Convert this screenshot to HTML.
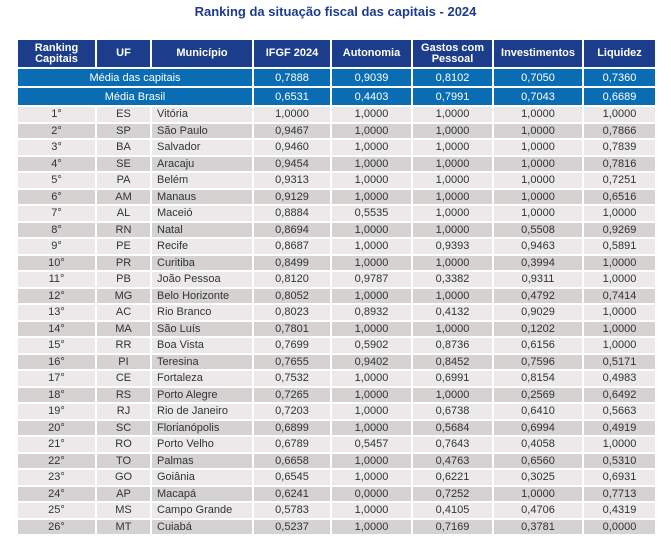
<!DOCTYPE html>
<html><head><meta charset="utf-8"><style>
body{margin:0;background:#fff;width:671px;height:547px;overflow:hidden;font-family:"Liberation Sans","DejaVu Sans",sans-serif;}
.title{position:absolute;top:4px;left:0;width:671px;text-align:center;color:#1c3c8c;font-weight:bold;font-size:13px;}
table{position:absolute;left:16px;top:38px;width:639px;border-collapse:collapse;table-layout:fixed;font-size:11px;color:#333;}
td,th{border:2px solid #fff;padding:0;text-align:center;line-height:12px;overflow:hidden;white-space:nowrap;}
th{background:#1c3c8c;color:#fff;font-size:11px;height:27px;font-weight:bold;line-height:11px;}
tr.m td{background:#0a6db3;color:#fff;height:17px;}
tr.d td{height:14.5px;}
tr.d:nth-child(even) td{background:#ebe9ea;}
tr.d:nth-child(odd) td{background:#d5d2d2;}
td.l{text-align:left;padding-left:5px;}
</style></head><body>
<div class="title">Ranking da situação fiscal das capitais - 2024</div>
<table>
<colgroup><col style="width:79px"><col style="width:55px"><col style="width:102px"><col style="width:78px"><col style="width:81px"><col style="width:81px"><col style="width:90px"><col style="width:73px"></colgroup>
<tr><th>Ranking<br>Capitais</th><th>UF</th><th>Município</th><th>IFGF 2024</th><th>Autonomia</th><th>Gastos com<br>Pessoal</th><th>Investimentos</th><th>Liquidez</th></tr>
<tr class="m"><td colspan="3">Média das capitais</td><td>0,7888</td><td>0,9039</td><td>0,8102</td><td>0,7050</td><td>0,7360</td></tr>
<tr class="m"><td colspan="3">Média Brasil</td><td>0,6531</td><td>0,4403</td><td>0,7991</td><td>0,7043</td><td>0,6689</td></tr>
<tr class="d"><td>1°</td><td>ES</td><td class="l">Vitória</td><td>1,0000</td><td>1,0000</td><td>1,0000</td><td>1,0000</td><td>1,0000</td></tr>
<tr class="d"><td>2°</td><td>SP</td><td class="l">São Paulo</td><td>0,9467</td><td>1,0000</td><td>1,0000</td><td>1,0000</td><td>0,7866</td></tr>
<tr class="d"><td>3°</td><td>BA</td><td class="l">Salvador</td><td>0,9460</td><td>1,0000</td><td>1,0000</td><td>1,0000</td><td>0,7839</td></tr>
<tr class="d"><td>4°</td><td>SE</td><td class="l">Aracaju</td><td>0,9454</td><td>1,0000</td><td>1,0000</td><td>1,0000</td><td>0,7816</td></tr>
<tr class="d"><td>5°</td><td>PA</td><td class="l">Belém</td><td>0,9313</td><td>1,0000</td><td>1,0000</td><td>1,0000</td><td>0,7251</td></tr>
<tr class="d"><td>6°</td><td>AM</td><td class="l">Manaus</td><td>0,9129</td><td>1,0000</td><td>1,0000</td><td>1,0000</td><td>0,6516</td></tr>
<tr class="d"><td>7°</td><td>AL</td><td class="l">Maceió</td><td>0,8884</td><td>0,5535</td><td>1,0000</td><td>1,0000</td><td>1,0000</td></tr>
<tr class="d"><td>8°</td><td>RN</td><td class="l">Natal</td><td>0,8694</td><td>1,0000</td><td>1,0000</td><td>0,5508</td><td>0,9269</td></tr>
<tr class="d"><td>9°</td><td>PE</td><td class="l">Recife</td><td>0,8687</td><td>1,0000</td><td>0,9393</td><td>0,9463</td><td>0,5891</td></tr>
<tr class="d"><td>10°</td><td>PR</td><td class="l">Curitiba</td><td>0,8499</td><td>1,0000</td><td>1,0000</td><td>0,3994</td><td>1,0000</td></tr>
<tr class="d"><td>11°</td><td>PB</td><td class="l">João Pessoa</td><td>0,8120</td><td>0,9787</td><td>0,3382</td><td>0,9311</td><td>1,0000</td></tr>
<tr class="d"><td>12°</td><td>MG</td><td class="l">Belo Horizonte</td><td>0,8052</td><td>1,0000</td><td>1,0000</td><td>0,4792</td><td>0,7414</td></tr>
<tr class="d"><td>13°</td><td>AC</td><td class="l">Rio Branco</td><td>0,8023</td><td>0,8932</td><td>0,4132</td><td>0,9029</td><td>1,0000</td></tr>
<tr class="d"><td>14°</td><td>MA</td><td class="l">São Luís</td><td>0,7801</td><td>1,0000</td><td>1,0000</td><td>0,1202</td><td>1,0000</td></tr>
<tr class="d"><td>15°</td><td>RR</td><td class="l">Boa Vista</td><td>0,7699</td><td>0,5902</td><td>0,8736</td><td>0,6156</td><td>1,0000</td></tr>
<tr class="d"><td>16°</td><td>PI</td><td class="l">Teresina</td><td>0,7655</td><td>0,9402</td><td>0,8452</td><td>0,7596</td><td>0,5171</td></tr>
<tr class="d"><td>17°</td><td>CE</td><td class="l">Fortaleza</td><td>0,7532</td><td>1,0000</td><td>0,6991</td><td>0,8154</td><td>0,4983</td></tr>
<tr class="d"><td>18°</td><td>RS</td><td class="l">Porto Alegre</td><td>0,7265</td><td>1,0000</td><td>1,0000</td><td>0,2569</td><td>0,6492</td></tr>
<tr class="d"><td>19°</td><td>RJ</td><td class="l">Rio de Janeiro</td><td>0,7203</td><td>1,0000</td><td>0,6738</td><td>0,6410</td><td>0,5663</td></tr>
<tr class="d"><td>20°</td><td>SC</td><td class="l">Florianópolis</td><td>0,6899</td><td>1,0000</td><td>0,5684</td><td>0,6994</td><td>0,4919</td></tr>
<tr class="d"><td>21°</td><td>RO</td><td class="l">Porto Velho</td><td>0,6789</td><td>0,5457</td><td>0,7643</td><td>0,4058</td><td>1,0000</td></tr>
<tr class="d"><td>22°</td><td>TO</td><td class="l">Palmas</td><td>0,6658</td><td>1,0000</td><td>0,4763</td><td>0,6560</td><td>0,5310</td></tr>
<tr class="d"><td>23°</td><td>GO</td><td class="l">Goiânia</td><td>0,6545</td><td>1,0000</td><td>0,6221</td><td>0,3025</td><td>0,6931</td></tr>
<tr class="d"><td>24°</td><td>AP</td><td class="l">Macapá</td><td>0,6241</td><td>0,0000</td><td>0,7252</td><td>1,0000</td><td>0,7713</td></tr>
<tr class="d"><td>25°</td><td>MS</td><td class="l">Campo Grande</td><td>0,5783</td><td>1,0000</td><td>0,4105</td><td>0,4706</td><td>0,4319</td></tr>
<tr class="d"><td>26°</td><td>MT</td><td class="l">Cuiabá</td><td>0,5237</td><td>1,0000</td><td>0,7169</td><td>0,3781</td><td>0,0000</td></tr>
</table>
</body></html>
